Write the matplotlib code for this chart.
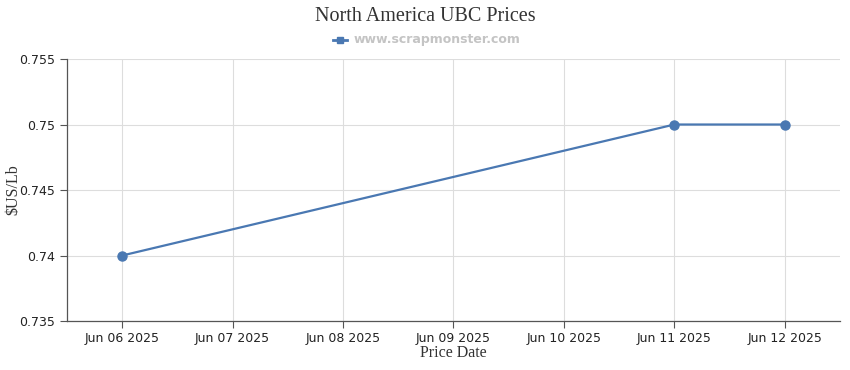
import matplotlib.pyplot as plt
import matplotlib.dates as mdates
import numpy as np
from datetime import datetime, timedelta

dates = [datetime(2025, 6, 6), datetime(2025, 6, 11), datetime(2025, 6, 12)]
prices = [0.74, 0.75, 0.75]
tick_dates = [datetime(2025, 6, d) for d in range(6, 13)]
yticks = [0.735, 0.74, 0.745, 0.75, 0.755]
ytick_labels = ['0.735', '0.74', '0.745', '0.75', '0.755']

color = '#4a78b2'

fig = plt.figure(figsize=(8.5, 3.7), dpi=100)
ax = fig.add_axes([0.0788, 0.1324, 0.9094, 0.7081])

ax.plot(dates, prices, color=color, linewidth=1.6, marker='o', markersize=6.5)

ax.set_xlim(datetime(2025, 6, 5, 12), datetime(2025, 6, 12, 12))
ax.set_ylim(0.735, 0.755)
ax.set_xticks(tick_dates)
ax.xaxis.set_major_formatter(mdates.DateFormatter('%b %d %Y'))
ax.set_yticks(yticks)
ax.set_yticklabels(ytick_labels)

ax.grid(True, color='#dddddd', linewidth=0.8)
ax.set_axisbelow(True)
for s in ['top', 'right']:
    ax.spines[s].set_visible(False)
for s in ['left', 'bottom']:
    ax.spines[s].set_color('#555555')
    ax.spines[s].set_linewidth(0.9)
ax.tick_params(axis='both', colors='#555555', labelcolor='#222222', labelsize=9, length=5, width=0.8)
ax.tick_params(axis='x', pad=3)

ax.set_xlabel('Price Date', family='Liberation Serif', fontsize=11.5, color='#333333', labelpad=0)
ax.set_ylabel('$US/Lb', family='Liberation Serif', fontsize=11.5, color='#333333')
ax.yaxis.set_label_coords(-0.0595, 0.5)

fig.text(0.5, 0.955, 'North America UBC Prices', ha='center', va='center',
         family='Liberation Serif', fontsize=14.5, color='#333333')

# legend
fig.lines.append(plt.Line2D([0.392, 0.408], [0.892, 0.892], transform=fig.transFigure,
                            color=color, linewidth=2))
fig.lines.append(plt.Line2D([0.400], [0.892], transform=fig.transFigure,
                            color=color, marker='s', markersize=5, linestyle='none'))
fig.text(0.4155, 0.892, 'www.scrapmonster.com', ha='left', va='center',
         fontsize=9, fontweight='bold', color='#c4c4c4')

fig.savefig('out.png', dpi=100)
